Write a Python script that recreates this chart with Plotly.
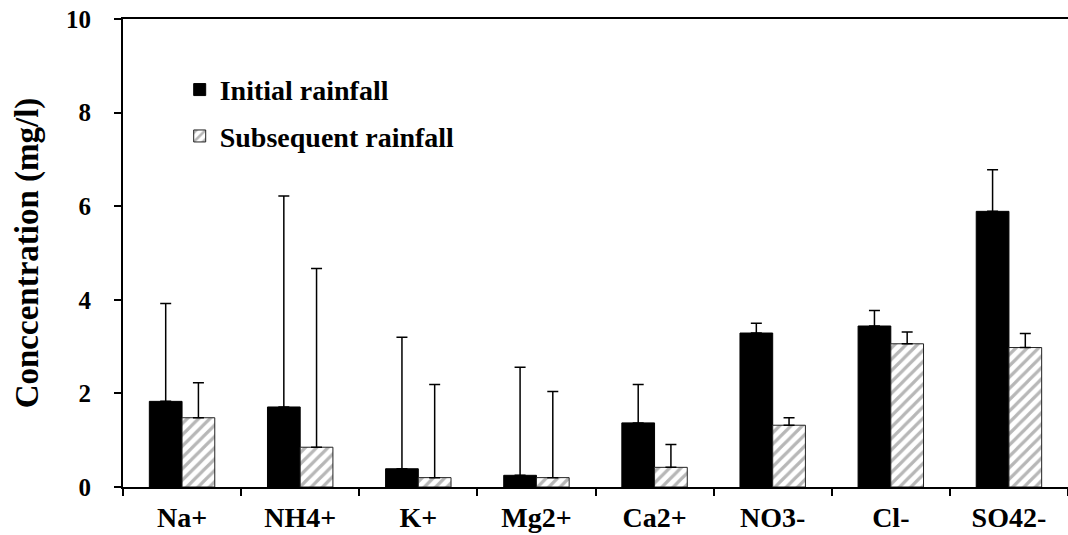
import plotly.graph_objects as go

# Ion species on the x axis
ions = ["Na+", "NH4+", "K+", "Mg2+", "Ca2+", "NO3-", "Cl-", "SO42-"]

# Mean concentrations (mg/l)
initial_mean = [1.83, 1.71, 0.39, 0.25, 1.37, 3.29, 3.44, 5.89]
subsequent_mean = [1.48, 0.85, 0.20, 0.20, 0.42, 1.32, 3.06, 2.98]

# Standard deviations, drawn as upper error bars only
initial_sd = [2.09, 4.51, 2.81, 2.31, 0.82, 0.21, 0.33, 0.89]
subsequent_sd = [0.75, 3.82, 1.99, 1.84, 0.49, 0.16, 0.25, 0.30]

y_ticks = [0, 2, 4, 6, 8, 10]

FONT = "Liberation Serif"

fig = go.Figure()

fig.add_trace(go.Bar(
    name="Initial rainfall",
    x=ions,
    y=initial_mean,
    legendgroup="a",
    marker=dict(color="black", line=dict(color="black", width=1)),
    error_y=dict(type="data", symmetric=False, array=initial_sd,
                 arrayminus=[0] * len(ions), color="black",
                 thickness=1.5, width=5.5),
))

fig.add_trace(go.Bar(
    name="Subsequent rainfall",
    x=ions,
    y=subsequent_mean,
    legendgroup="b",
    marker=dict(
        color="white",
        line=dict(color="#222222", width=1),
        pattern=dict(shape="/", fgcolor="#6f6f6f", bgcolor="white",
                     size=8, solidity=0.4),
    ),
    error_y=dict(type="data", symmetric=False, array=subsequent_sd,
                 arrayminus=[0] * len(ions), color="black",
                 thickness=1.5, width=5.5),
))

fig.update_layout(
    width=1068,
    height=535,
    margin=dict(l=123, r=0, t=19, b=48),
    paper_bgcolor="white",
    plot_bgcolor="white",
    barmode="group",
    bargap=0.446,
    bargroupgap=0,
    font=dict(family=FONT, size=24, color="black", weight="bold"),
    showlegend=True,
    legend=dict(
        x=0.06, y=0.902, xanchor="left", yanchor="top",
        bgcolor="rgba(0,0,0,0)",
        font=dict(family=FONT, size=28, color="black", weight="bold"),
        tracegroupgap=7,
        itemclick=False,
    ),
    xaxis=dict(
        showline=True, linecolor="black", linewidth=2,
        mirror=True,
        ticks="outside", tickson="boundaries", ticklen=7,
        tickcolor="black", tickwidth=2,
        ticklabelstandoff=4,
        tickfont=dict(family=FONT, size=28, color="black", weight="bold"),
        showgrid=False,
    ),
    yaxis=dict(
        range=[0, 10],
        tickvals=y_ticks,
        showline=True, linecolor="black", linewidth=2,
        ticks="outside", ticklen=7, tickcolor="black", tickwidth=2,
        ticklabelstandoff=18,
        tickfont=dict(family=FONT, size=25, color="black", weight="bold"),
        showgrid=False, zeroline=False,
        title=dict(text="Conccentration (mg/l)", standoff=17,
                   font=dict(family=FONT, size=33, color="black", weight="bold")),
    ),
)

fig.write_html("out.html")
